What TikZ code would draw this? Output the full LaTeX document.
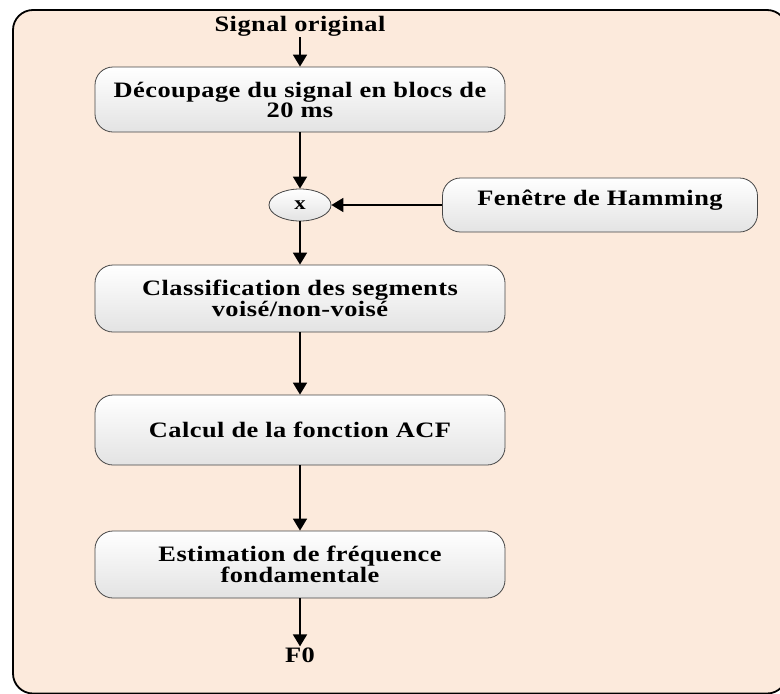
\documentclass[tikz,border=0pt]{standalone}
\usepackage{fontspec}
\setmainfont{Liberation Serif}[FakeStretch=1.2,LetterSpace=2]
\usetikzlibrary{shapes.geometric,arrows.meta}
\definecolor{bgc}{RGB}{252,234,220}
\definecolor{boxline}{RGB}{70,70,70}
\tikzset{
  stepbox/.style={draw=boxline,line width=0.8pt,rounded corners=18pt,top color=white,bottom color=black!11,
    minimum width=410pt,align=center,font=\fontsize{22}{20}\selectfont\bfseries,inner sep=0pt},
  lbl/.style={font=\fontsize{22}{20}\selectfont\bfseries,inner sep=1pt},
  arr/.style={line width=1.8pt,-{Triangle[length=12pt,width=14pt]}},
  mulnode/.style={ellipse,draw=boxline,line width=0.8pt,top color=white,bottom color=black!11,
    minimum width=62pt,minimum height=32pt,inner sep=0pt,font=\fontsize{19}{19}\selectfont\bfseries}
}
\begin{document}
\begin{tikzpicture}[x=1pt,y=-1pt]
\useasboundingbox (0,0) rectangle (780,694);
\begin{scope}
\clip (0,0) rectangle (780,694);
\draw[line width=1.8pt,fill=bgc,rounded corners=20pt] (13,10) rectangle (787,693.5);
\end{scope}
\node[lbl] (sig) at (300,26) {Signal original};
\node[stepbox,minimum height=65pt] (b1) at (300,99.5) {Découpage du signal en blocs de\\20 ms};
\node[mulnode] (mul) at (300,205) {x};
\node[stepbox,minimum width=315pt,minimum height=54pt,text height=19pt,text depth=19pt] (ham) at (600,205) {Fenêtre de Hamming};
\node[stepbox,minimum height=67pt] (b2) at (300,298.5) {Classification des segments\\voisé/non-voisé};
\node[stepbox,minimum height=70pt] (b3) at (300,430) {Calcul de la fonction ACF};
\node[stepbox,minimum height=67pt] (b4) at (300,564.5) {Estimation de fréquence\\fondamentale};
\node[lbl] (f0) at (300,655) {F0};
\draw[arr] (sig.south) -- (b1.north);
\draw[arr] (b1.south) -- (mul.north);
\draw[arr] (ham.west) -- (mul.east);
\draw[arr] (mul.south) -- (b2.north);
\draw[arr] (b2.south) -- (b3.north);
\draw[arr] (b3.south) -- (b4.north);
\draw[arr] (b4.south) -- (f0.north);
\end{tikzpicture}
\end{document}
